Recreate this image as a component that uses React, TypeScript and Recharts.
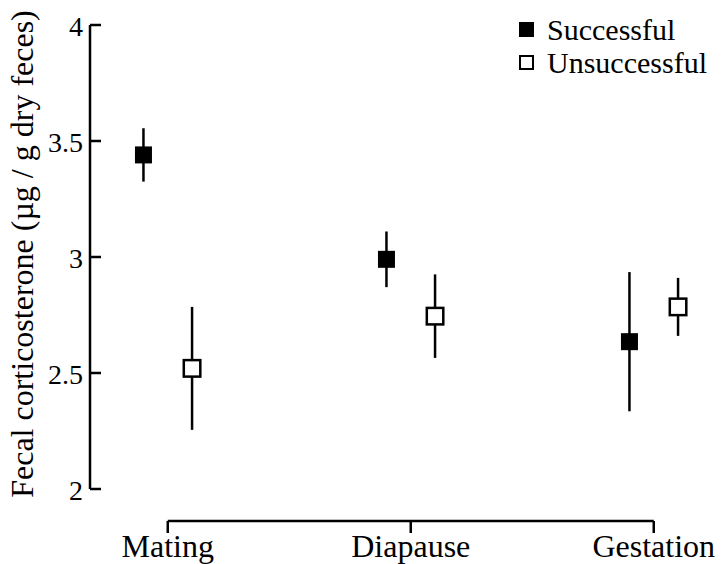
import {
  ScatterChart,
  Scatter,
  XAxis,
  YAxis,
  ErrorBar,
  ReferenceLine,
  Legend,
} from "recharts";

const STAGES = ["Mating", "Diapause", "Gestation"];
const STAGE_POS = [1, 2, 3];
const Y_TICKS = [2, 2.5, 3, 3.5, 4];

// successful females (filled squares), mean and SE
const SUCCESS_X = [0.9, 1.9, 2.9];
const SUCCESS_MEAN = [3.44, 2.99, 2.635];
const SUCCESS_ERR = [0.115, 0.12, 0.3];

// unsuccessful females (open squares)
const UNSUCCESS_X = [1.1, 2.1, 3.1];
const UNSUCCESS_MEAN = [2.52, 2.745, 2.785];
const UNSUCCESS_ERR = [0.265, 0.18, 0.125];

const FONT = "Liberation Serif, Times New Roman, serif";
// the category axis sits a little below the bottom of the value range
const FRAME_Y = 1.862;

const successData = SUCCESS_X.map((x, i) => ({
  x,
  y: SUCCESS_MEAN[i],
  err: SUCCESS_ERR[i],
}));
const unsuccessData = UNSUCCESS_X.map((x, i) => ({
  x,
  y: UNSUCCESS_MEAN[i],
  err: UNSUCCESS_ERR[i],
}));

function FilledSquare(props: any) {
  const { cx, cy } = props;
  return <rect x={cx - 8.5} y={cy - 8.5} width={17} height={17} fill="#000" />;
}

function OpenSquare(props: any) {
  const { cx, cy } = props;
  return (
    <rect
      x={cx - 8.25}
      y={cy - 8.25}
      width={16.5}
      height={16.5}
      fill="#fff"
      stroke="#000"
      strokeWidth={2.5}
    />
  );
}

function YTick(props: any) {
  const { x, y, payload } = props;
  return (
    <g>
      <line x1={x} x2={x + 11} y1={y} y2={y} stroke="#000" strokeWidth={2.5} />
      <text
        x={x - 7}
        y={y + 11}
        textAnchor="end"
        fontSize={28}
        fontFamily={FONT}
        fill="#000"
      >
        {payload.value}
      </text>
    </g>
  );
}

function XTick(props: any) {
  const { x, y, index } = props;
  return (
    <g>
      <line x1={x} x2={x} y1={y + 32} y2={y + 44} stroke="#000" strokeWidth={2.5} />
      <text
        x={x}
        y={y + 68}
        textAnchor="middle"
        fontSize={32}
        fontFamily={FONT}
        fill="#000"
      >
        {STAGES[index]}
      </text>
    </g>
  );
}

function YLabel(props: any) {
  const { viewBox } = props;
  const cx = viewBox.x + 33;
  const cy = viewBox.y + viewBox.height / 2 - 3;
  return (
    <text
      x={cx}
      y={cy}
      transform={`rotate(-90, ${cx}, ${cy})`}
      textAnchor="middle"
      fontSize={32}
      fontFamily={FONT}
      fill="#000"
    >
      Fecal corticosterone (µg / g dry feces)
    </text>
  );
}

function LegendBox(props: any) {
  const { payload } = props;
  return (
    <div style={{ fontFamily: FONT, fontSize: 30, color: "#000" }}>
      {(payload || []).map((entry: any, i: number) => (
        <div
          key={entry.value}
          style={{ display: "flex", alignItems: "center", height: 33 }}
        >
          <span
            style={{
              display: "inline-block",
              boxSizing: "border-box",
              width: 15,
              height: 15,
              background: i === 0 ? "#000" : "#fff",
              border: "2.5px solid #000",
              marginRight: 13,
            }}
          />
          <span style={{ lineHeight: "33px" }}>{entry.value}</span>
        </div>
      ))}
    </div>
  );
}

export default function App() {
  return (
    <div style={{ position: "absolute", left: 0, top: 0 }}>
      <ScatterChart
        width={722}
        height={564}
        margin={{ top: 25, right: 7.5, bottom: 0, left: 0 }}
      >
        <XAxis
          type="number"
          dataKey="x"
          domain={[0.68, 3.25]}
          ticks={STAGE_POS}
          allowDataOverflow
          height={75}
          axisLine={false}
          tickLine={false}
          tickSize={0}
          tickMargin={0}
          tick={<XTick />}
          interval={0}
        />
        <YAxis
          type="number"
          dataKey="y"
          domain={[2, 4]}
          ticks={Y_TICKS}
          allowDataOverflow
          width={90}
          axisLine={{ stroke: "#000", strokeWidth: 2.5 }}
          tickLine={false}
          tickSize={0}
          tickMargin={0}
          tick={<YTick />}
          interval={0}
          label={<YLabel />}
        />
        <ReferenceLine
          segment={[
            { x: STAGE_POS[0], y: FRAME_Y },
            { x: STAGE_POS[STAGE_POS.length - 1], y: FRAME_Y },
          ]}
          stroke="#000"
          strokeWidth={2.5}
          ifOverflow="visible"
        />
        <Legend
          layout="vertical"
          align="center"
          verticalAlign="middle"
          wrapperStyle={{ top: 13, left: 519, width: "auto" }}
          content={<LegendBox />}
        />
        <Scatter
          name="Successful"
          data={successData}
          fill="#000"
          shape={<FilledSquare />}
          isAnimationActive={false}
        >
          <ErrorBar
            dataKey="err"
            direction="y"
            width={0}
            stroke="#000"
            strokeWidth={2.5}
            isAnimationActive={false}
          />
        </Scatter>
        <Scatter
          name="Unsuccessful"
          data={unsuccessData}
          fill="#fff"
          shape={<OpenSquare />}
          isAnimationActive={false}
        >
          <ErrorBar
            dataKey="err"
            direction="y"
            width={0}
            stroke="#000"
            strokeWidth={2.5}
            isAnimationActive={false}
          />
        </Scatter>
      </ScatterChart>
    </div>
  );
}
